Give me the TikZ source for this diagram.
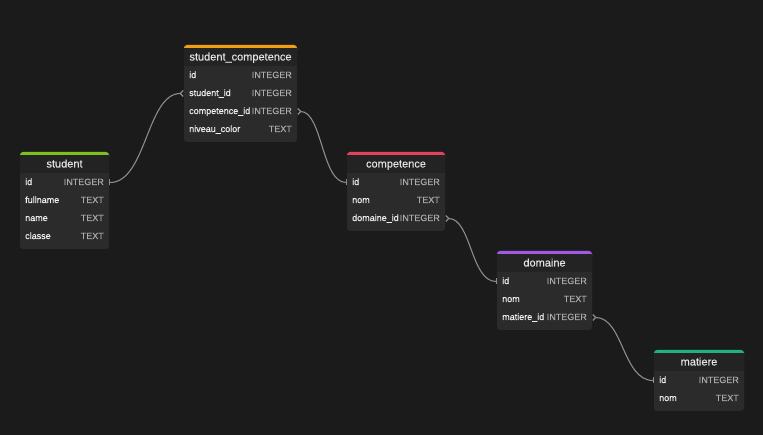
\documentclass[tikz,border=0pt]{standalone}
\usepackage{fontspec}
\setmainfont{Liberation Sans}
\newfontfamily\headfont{Liberation Sans}[FakeBold=0.5]
\newfontfamily\fieldfont{Liberation Sans}[FakeBold=0.6]
\newfontfamily\typefont{Liberation Sans}[FakeBold=0.3]
\usetikzlibrary{arrows.meta}

\definecolor{bgcol}{HTML}{1B1B1B}
\definecolor{rowcol}{HTML}{2B2B2B}
\definecolor{headcol}{HTML}{232323}
\definecolor{titlecol}{HTML}{E2E2E2}
\definecolor{fieldcol}{HTML}{F0F0F0}
\definecolor{typecol}{HTML}{ABABAB}
\definecolor{linkcol}{HTML}{8C8C8C}
\definecolor{greencol}{HTML}{7CC21E}
\definecolor{orangecol}{HTML}{F29D16}
\definecolor{redcol}{HTML}{E2435C}
\definecolor{purplecol}{HTML}{A258E3}
\definecolor{tealcol}{HTML}{21B27F}

\tikzset{
  entbox/.style={fill=rowcol, rounded corners=3pt, inner sep=0pt},
  enttitle/.style={anchor=base, text=titlecol, font=\headfont\fontsize{11}{13}\selectfont, inner sep=0pt},
  entfield/.style={anchor=base west, text=fieldcol, font=\fieldfont\fontsize{9}{11}\selectfont, inner sep=0pt, text height=7pt, text depth=2pt},
  enttype/.style={anchor=base east, text=typecol, font=\typefont\fontsize{9}{11}\selectfont, inner sep=0pt, text height=7pt, text depth=2pt},
  rel/.style={draw=linkcol, line width=1.1pt, {Straight Barb[reversed,length=3pt,width=6pt]}-{Bar[width=6pt]}}
}

\begin{document}
\begin{tikzpicture}[x=1pt,y=-1pt]
% Background
\fill[bgcol] (0,0) rectangle (763,435);

% student
\node[entbox, minimum width=89pt, minimum height=97pt] (student) at (64.5,200.5) {};
\fill[greencol, rounded corners=3pt] (20,152) rectangle (109,160);
\fill[headcol] (20,155) rectangle (109,173);
\node[enttitle] (student-title) at (64.5,167.5) {student};
\node[entfield] (student-id) at (25,185) {id};
\node[enttype] (student-id-t) at (104,185) {INTEGER};
\node[entfield] (student-fn) at (25,203) {fullname};
\node[enttype] (student-fn-t) at (104,203) {TEXT};
\node[entfield] (student-na) at (25,221) {name};
\node[enttype] (student-na-t) at (104,221) {TEXT};
\node[entfield] (student-cl) at (25,239) {classe};
\node[enttype] (student-cl-t) at (104,239) {TEXT};

% student_competence
\node[entbox, minimum width=113pt, minimum height=97pt] (stucomp) at (240.5,93.5) {};
\fill[orangecol, rounded corners=3pt] (184,45) rectangle (297,53);
\fill[headcol] (184,48) rectangle (297,66);
\node[enttitle] (stucomp-title) at (240.5,60.5) {student\_competence};
\node[entfield] (stucomp-id) at (189,78) {id};
\node[enttype] (stucomp-id-t) at (292,78) {INTEGER};
\node[entfield] (stucomp-sid) at (189,96) {student\_id};
\node[enttype] (stucomp-sid-t) at (292,96) {INTEGER};
\node[entfield] (stucomp-cid) at (189,114) {competence\_id};
\node[enttype] (stucomp-cid-t) at (292,114) {INTEGER};
\node[entfield] (stucomp-nc) at (189,132) {niveau\_color};
\node[enttype] (stucomp-nc-t) at (292,132) {TEXT};

% competence
\node[entbox, minimum width=98pt, minimum height=79pt] (competence) at (396,191.5) {};
\fill[redcol, rounded corners=3pt] (347,152) rectangle (445,160);
\fill[headcol] (347,155) rectangle (445,173);
\node[enttitle] (competence-title) at (396,167.5) {competence};
\node[entfield] (competence-id) at (352,185) {id};
\node[enttype] (competence-id-t) at (440,185) {INTEGER};
\node[entfield] (competence-nom) at (352,203) {nom};
\node[enttype] (competence-nom-t) at (440,203) {TEXT};
\node[entfield] (competence-did) at (352,221) {domaine\_id};
\node[enttype] (competence-did-t) at (440,221) {INTEGER};

% domaine
\node[entbox, minimum width=95pt, minimum height=79pt] (domaine) at (544.5,290.5) {};
\fill[purplecol, rounded corners=3pt] (497,251) rectangle (592,259);
\fill[headcol] (497,254) rectangle (592,272);
\node[enttitle] (domaine-title) at (544.5,266.5) {domaine};
\node[entfield] (domaine-id) at (502,284) {id};
\node[enttype] (domaine-id-t) at (587,284) {INTEGER};
\node[entfield] (domaine-nom) at (502,302) {nom};
\node[enttype] (domaine-nom-t) at (587,302) {TEXT};
\node[entfield] (domaine-mid) at (502,320) {matiere\_id};
\node[enttype] (domaine-mid-t) at (587,320) {INTEGER};

% matiere
\node[entbox, minimum width=90pt, minimum height=61pt] (matiere) at (699,380.5) {};
\fill[tealcol, rounded corners=3pt] (654,350) rectangle (744,358);
\fill[headcol] (654,353) rectangle (744,371);
\node[enttitle] (matiere-title) at (699,365.5) {matiere};
\node[entfield] (matiere-id) at (659,383) {id};
\node[enttype] (matiere-id-t) at (739,383) {INTEGER};
\node[entfield] (matiere-nom) at (659,401) {nom};
\node[enttype] (matiere-nom-t) at (739,401) {TEXT};

% Links
\draw[rel] (stucomp.west |- stucomp-sid) .. controls +(-37,0) and +(37,0) .. (student.east |- student-id);
\draw[rel] (stucomp.east |- stucomp-cid) .. controls +(25,0) and +(-25,0) .. (competence.west |- competence-id);
\draw[rel] (competence.east |- competence-did) .. controls +(26,0) and +(-26,0) .. (domaine.west |- domaine-id);
\draw[rel] (domaine.east |- domaine-mid) .. controls +(31,0) and +(-31,0) .. (matiere.west |- matiere-id);
\end{tikzpicture}
\end{document}
